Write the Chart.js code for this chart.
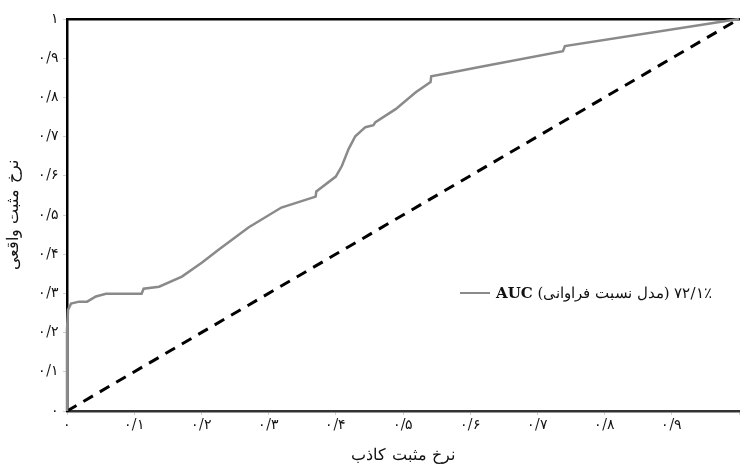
<!DOCTYPE html>
<html lang="fa">
<head>
<meta charset="utf-8">
<script src="https://cdn.jsdelivr.net/npm/chart.js@4.4.1/dist/chart.umd.min.js"></script>
<style>
    body { margin: 0; background: #fff; }
    #wrap { position: relative; width: 741px; height: 469px; }
    #legend {
        position: absolute; left: 460px; top: 284px;
        font-family: "DejaVu Serif", "Liberation Serif", serif;
        font-size: 15px; color: #111; white-space: nowrap;
        display: flex; align-items: center;
    }
    #legend .line { display: inline-block; width: 30px; height: 0; border-top: 2.5px solid #8a8a8a; margin-right: 6px; }
</style>
</head>
<body>
<div id="wrap">
    <canvas id="rocChart"></canvas>
    <div id="legend"><span class="line"></span><span dir="rtl">۷۲/۱٪ (مدل نسبت فراوانی) <b>AUC</b></span></div>
</div>
<script>
// Données de la courbe ROC
const fprValues = [0, 0, 0.0015, 0.006, 0.018, 0.030, 0.043, 0.058, 0.111, 0.114, 0.137, 0.171, 0.201, 0.226,
    0.270, 0.319, 0.370, 0.371, 0.400, 0.409, 0.419, 0.429, 0.444, 0.456, 0.459, 0.489, 0.519, 0.541, 0.542,
    0.568, 0.612, 0.738, 0.741, 1.0];
const tprValues = [0, 0.207, 0.258, 0.274, 0.279, 0.279, 0.292, 0.299, 0.299, 0.312, 0.317, 0.343, 0.379, 0.412,
    0.468, 0.519, 0.547, 0.560, 0.598, 0.625, 0.668, 0.701, 0.724, 0.729, 0.737, 0.770, 0.813, 0.839, 0.854,
    0.862, 0.877, 0.918, 0.931, 1.0];

// Diagonale (classement aléatoire)
const diagX = [0, 1];
const diagY = [0, 1];

// Étiquettes des graduations
const tickValues = [0, 0.1, 0.2, 0.3, 0.4, 0.5, 0.6, 0.7, 0.8, 0.9, 1];
const tickLabels = ['۰', '۰/۱', '۰/۲', '۰/۳', '۰/۴', '۰/۵', '۰/۶', '۰/۷', '۰/۸', '۰/۹', '۱'];

const xTitle = 'نرخ مثبت کاذب';
const yTitle = 'نرخ مثبت واقعی';

function labelFor(v) {
    const i = tickValues.findIndex(t => Math.abs(t - v) < 1e-6);
    return i >= 0 ? tickLabels[i] : '';
}

const tickFont = { family: '"DejaVu Serif", "Liberation Serif", serif', size: 14 };
const titleFont = { family: '"DejaVu Serif", "Liberation Serif", serif', size: 16 };

const ctx = document.getElementById('rocChart').getContext('2d');
const rocChart = new Chart(ctx, {
    type: 'scatter',
    data: {
        datasets: [{
            label: 'AUC',
            data: fprValues.map((x, i) => ({ x: x, y: tprValues[i] })),
            showLine: true,
            borderColor: '#8a8a8a',
            borderWidth: 2.5,
            pointRadius: 0,
            tension: 0,
            clip: false
        },
        {
            label: 'diag',
            data: diagX.map((x, i) => ({ x: x, y: diagY[i] })),
            showLine: true,
            borderColor: '#000',
            borderWidth: 3,
            borderDash: [11, 8],
            pointRadius: 0,
            clip: false
        }]
    },
    options: {
        responsive: true,
        maintainAspectRatio: false,
        animation: false,
        layout: { padding: { top: 19, right: 0, left: 0, bottom: 0 } },
        plugins: {
            legend: { display: false },
            tooltip: { enabled: false }
        },
        scales: {
            x: {
                type: 'linear',
                min: 0,
                max: 1,
                afterBuildTicks: scale => { scale.ticks = tickValues.map(v => ({ value: v })); },
                afterFit: scale => { scale.height = 58; },
                ticks: {
                    color: '#111',
                    font: tickFont,
                    maxRotation: 0,
                    autoSkip: false,
                    padding: 2,
                    callback: v => (v >= 1 ? '' : labelFor(v))
                },
                grid: { drawOnChartArea: false, tickLength: 4, color: '#cfcfcf' },
                border: { color: '#333', width: 2.5 },
                title: {
                    display: true,
                    text: xTitle,
                    color: '#111',
                    font: titleFont,
                    padding: { top: 4 }
                }
            },
            x2: {
                type: 'linear',
                position: 'top',
                min: 0,
                max: 1,
                ticks: { display: false },
                grid: { drawOnChartArea: false, drawTicks: false },
                border: { color: '#000', width: 2.5 }
            },
            y: {
                min: 0,
                max: 1,
                afterBuildTicks: scale => { scale.ticks = tickValues.map(v => ({ value: v })); },
                afterFit: scale => { scale.width = 67; },
                ticks: {
                    color: '#111',
                    font: tickFont,
                    autoSkip: false,
                    padding: 4,
                    callback: v => labelFor(v)
                },
                grid: { drawOnChartArea: false, tickLength: 4, color: '#cfcfcf' },
                border: { color: '#000', width: 2.5 },
                title: {
                    display: true,
                    text: yTitle,
                    color: '#111',
                    font: titleFont,
                    padding: { bottom: 0 }
                }
            }
        }
    }
});
</script>
</body>
</html>
